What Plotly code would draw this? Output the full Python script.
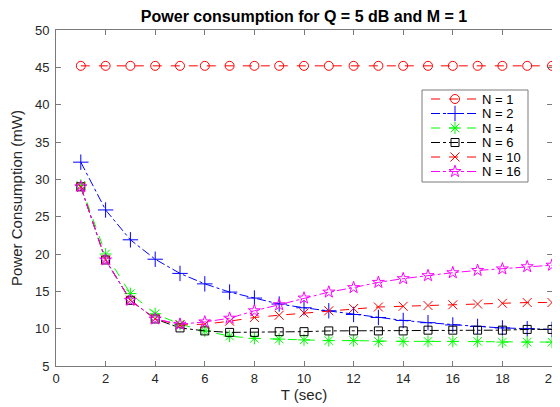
import plotly.graph_objects as go

T = list(range(1, 21))
n1 = [45.2] * 20
n2 = [32.3, 25.9, 21.9, 19.3, 17.4, 16.0, 14.9, 14.1, 13.3, 12.8, 12.4, 11.9, 11.5, 11.1, 10.8, 10.5, 10.3, 10.1, 10.0, 9.9]
n4 = [29.2, 20.0, 14.7, 12.0, 10.6, 9.7, 9.0, 8.7, 8.6, 8.5, 8.4, 8.4, 8.3, 8.3, 8.3, 8.3, 8.3, 8.2, 8.2, 8.2]
n6 = [29.0, 19.2, 13.8, 11.3, 10.1, 9.7, 9.5, 9.5, 9.6, 9.6, 9.7, 9.7, 9.7, 9.7, 9.8, 9.8, 9.8, 9.8, 9.9, 9.9]
n10 = [29.0, 19.2, 13.8, 11.3, 10.5, 10.6, 11.0, 11.5, 11.8, 12.1, 12.4, 12.7, 12.9, 13.0, 13.1, 13.2, 13.3, 13.4, 13.5, 13.5]
n16 = [29.0, 19.2, 13.8, 11.3, 10.6, 10.9, 11.4, 12.4, 13.2, 14.1, 14.9, 15.5, 16.2, 16.7, 17.1, 17.5, 17.8, 18.0, 18.3, 18.5]
labels = ["N = 1", "N = 2", "N = 4", "N = 6", "N = 10", "N = 16"]

series = [n1, n2, n4, n6, n10, n16]
colors = ["#FF0000", "#0000FF", "#00FF00", "#000000", "#FF0000", "#FF00FF"]
dashes = ["dash", "dashdot", "dash", "dashdot", "dash", "dashdot"]
symbols = ["circle-open", "cross-thin-open", "asterisk-open", "square-open", "x-thin-open", "star-open"]
sizes = [9, 11, 10, 8, 9, 9]

FONT = "Liberation Sans, Arial, Helvetica"
AX = "#7a7a7a"
TXT = "#262626"

fig = go.Figure()
for s, lab, c, d, sym, sz in zip(series, labels, colors, dashes, symbols, sizes):
    fig.add_trace(go.Scatter(
        x=T, y=s, name=lab, mode="lines+markers", showlegend=False,
        line=dict(color=c, dash=d, width=1),
        marker=dict(symbol=sym, size=sz, color=c, line=dict(color=c, width=1)),
    ))

# Legend drawn on an overlay axis whose units equal screen pixels of the plot area
L_LEFT, L_RIGHT, L_TOP, L_BOT = 422, 528, 90, 182
ROW0, ROWSTEP = 99, 14.5
for i, (lab, c, d, sym, sz) in enumerate(zip(labels, colors, dashes, symbols, sizes)):
    yy = ROW0 + ROWSTEP * i
    fig.add_trace(go.Scatter(x=[431, 478], y=[yy, yy], mode="lines", xaxis="x2", yaxis="y2",
                             showlegend=False, hoverinfo="skip",
                             line=dict(color=c, dash=d, width=1)))
    fig.add_trace(go.Scatter(x=[455], y=[yy], mode="markers", xaxis="x2", yaxis="y2",
                             showlegend=False, hoverinfo="skip",
                             marker=dict(symbol=sym, size=sz, color=c, line=dict(color=c, width=1))))
    fig.add_annotation(x=481, y=yy, xref="x2", yref="y2", text=lab, showarrow=False,
                       xanchor="left", yanchor="middle", borderpad=0,
                       font=dict(family=FONT, size=13, color="black"))
fig.add_shape(type="rect", xref="x2", yref="y2", x0=L_LEFT, x1=L_RIGHT, y0=L_TOP, y1=L_BOT,
              line=dict(color=AX, width=1), fillcolor="white", layer="below")

axis_common = dict(
    showline=True, linecolor=AX, linewidth=1, mirror="ticks",
    ticks="inside", ticklen=5, tickcolor=AX,
    showgrid=False, zeroline=False, automargin=False, ticklabeloverflow="allow",
    tickfont=dict(family=FONT, size=13, color=TXT),
)
# the page body has an 8 px margin, so the figure is 8 px smaller and margins shifted
fig.update_layout(
    width=552, height=399,
    margin=dict(l=48, r=8, t=22, b=41),
    paper_bgcolor="white", plot_bgcolor="white",
    title=dict(text="<b>Power consumption for Q = 5 dB and M = 1</b>",
               x=0.5, xanchor="center", xref="paper", y=0.994, yanchor="top",
               font=dict(family=FONT, size=16, color="black")),
    xaxis=dict(range=[0, 20], tickvals=list(range(0, 21, 2)),
               title=dict(text="T (sec)", standoff=3,
                          font=dict(family=FONT, size=15, color=TXT)),
               **axis_common),
    yaxis=dict(range=[5, 50], tickvals=list(range(5, 51, 5)), ticklabelstandoff=3,
               title=dict(text="Power Consumption (mW)", standoff=8,
                          font=dict(family=FONT, size=15, color=TXT)),
               **axis_common),
    xaxis2=dict(overlaying="x", anchor="y2", range=[56, 552], visible=False, fixedrange=True),
    yaxis2=dict(overlaying="y", anchor="x2", range=[366, 30], visible=False, fixedrange=True),
    showlegend=False,
)
fig.write_html("out.html")
